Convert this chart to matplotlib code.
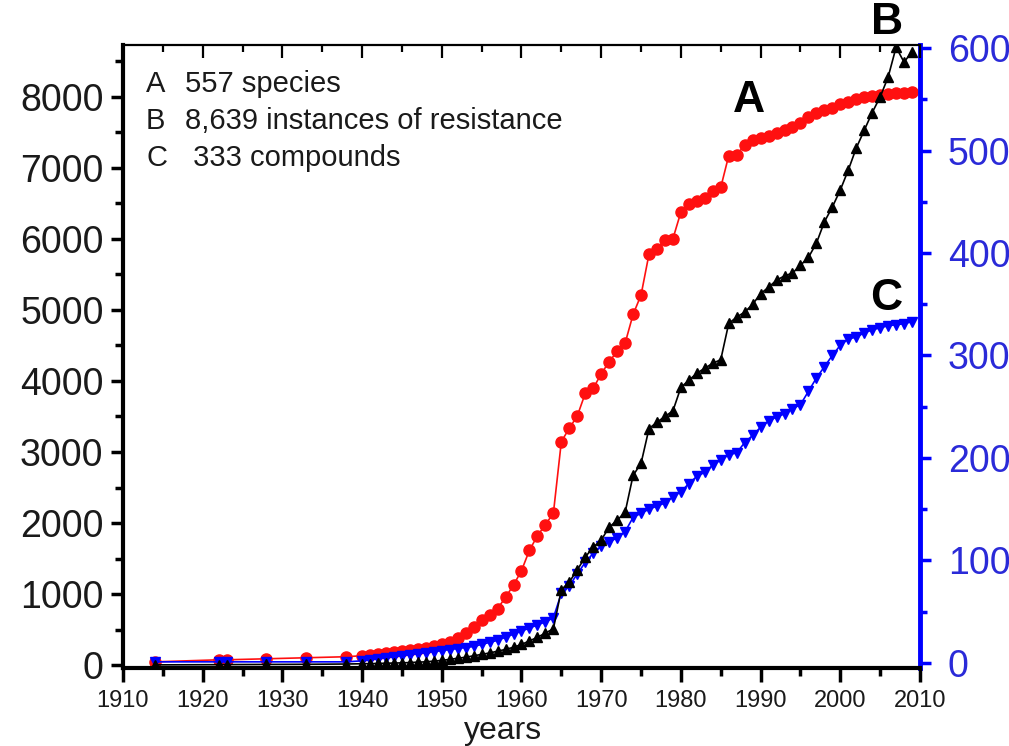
import matplotlib
matplotlib.use("Agg")
import matplotlib.pyplot as plt
from matplotlib.ticker import MultipleLocator

plt.rcParams['font.family'] = ['Liberation Sans', 'DejaVu Sans']

# ---------------- data ----------------
years = [1914, 1922, 1923, 1928, 1933, 1938] + list(range(1940, 2010))

# A: species (right axis)
species = [1, 3, 3, 4, 5, 6,
           7, 8, 9, 10, 11, 12, 13, 14, 15, 16,          # 1940-1949
           18, 20, 24, 29, 35, 42, 47, 53, 64, 76,       # 1950-1959
           90, 110, 124, 135, 146, 216, 229, 241, 263, 268,   # 1960-1969
           282, 294, 304, 312, 340, 359, 399, 404, 413, 414,  # 1970-1979
           440, 448, 451, 454, 461, 464, 495, 496, 505, 510,  # 1980-1989
           512, 514, 517, 520, 523, 527, 533, 537, 540, 542,  # 1990-1999
           545, 547, 550, 552, 553, 554, 555, 556, 556, 557]  # 2000-2009

# B: instances of resistance (left axis)
instances = [2, 5, 6, 8, 10, 14,
             18, 20, 22, 25, 28, 30, 35, 40, 45, 55,            # 1940-1949
             65, 80, 95, 110, 130, 150, 170, 195, 220, 250,     # 1950-1959
             290, 340, 390, 450, 510, 1060, 1170, 1340, 1520, 1660,  # 1960-1969
             1760, 1940, 2040, 2150, 2670, 2840, 3330, 3420, 3500, 3580,  # 1970-1979
             3910, 4010, 4110, 4180, 4250, 4300, 4810, 4900, 4970, 5080,  # 1980-1989
             5230, 5320, 5420, 5480, 5520, 5630, 5740, 5940, 6240, 6450,  # 1990-1999
             6690, 6970, 7280, 7530, 7780, 8000, 8280, 8700, 8490, 8639]  # 2000-2009

# C: compounds (right axis)
compounds = [1, 1, 1, 1, 1, 1,
             2, 3, 4, 5, 6, 7, 8, 9, 10, 11,               # 1940-1949
             12, 13, 14, 15, 16, 18, 20, 22, 25, 28,       # 1950-1959
             31, 34, 37, 40, 44, 68, 75, 87, 98, 107,      # 1960-1969
             114, 118, 122, 128, 142, 146, 150, 153, 156, 162,  # 1970-1979
             167, 175, 182, 186, 193, 198, 203, 205, 215, 222,  # 1980-1989
             230, 236, 240, 243, 248, 252, 265, 278, 289, 300,  # 1990-1999
             310, 316, 318, 322, 325, 327, 329, 330, 331, 333]  # 2000-2009

left_ticks = [0, 1000, 2000, 3000, 4000, 5000, 6000, 7000, 8000]
right_ticks = [0, 100, 200, 300, 400, 500, 600]
x_ticks = [1910, 1920, 1930, 1940, 1950, 1960, 1970, 1980, 1990, 2000, 2010]

legend_letters = ["A", "B", "C"]
legend_texts = ["557 species", "8,639 instances of resistance", " 333 compounds"]

# ---------------- figure ----------------
W, H = 1009, 746
fig = plt.figure(figsize=(W / 100, H / 100), dpi=100)
ax = fig.add_axes([123 / W, 1 - 668 / H, (920 - 123) / W, (668 - 45) / H])
ax2 = ax.twinx()

BLUE = '#0000ff'
TXT = '#1a1a1a'

# right-axis series
ax2.plot(years, species, '-', color='#ff1010', lw=1.2, marker='o', ms=8,
         mfc='#ff1010', mec='#ff1010', zorder=2)
ax2.plot(years, compounds, '-', color=BLUE, lw=1.2, marker='v', ms=7.5,
         mfc=BLUE, mec=BLUE, zorder=3)
# left-axis series
ax.plot(years, instances, '-', color='black', lw=1.2, marker='^', ms=7,
        mfc='black', mec='black', zorder=3)

ax.set_zorder(ax2.get_zorder() + 1)
ax.patch.set_visible(False)

ax.set_xlim(1910, 2010)
ax.set_ylim(-42, 8732)
ax2.set_ylim(-5, 603)

ax.set_xticks(x_ticks)
ax.xaxis.set_minor_locator(MultipleLocator(5))
ax.set_yticks(left_ticks)
ax.yaxis.set_minor_locator(MultipleLocator(500))
ax2.set_yticks(right_ticks)
ax2.yaxis.set_minor_locator(MultipleLocator(50))

# spines
for s in ['left', 'bottom']:
    ax.spines[s].set_linewidth(3)
    ax.spines[s].set_color('black')
ax.spines['top'].set_linewidth(1.6)
ax.spines['right'].set_visible(False)
for s in ['left', 'bottom', 'top']:
    ax2.spines[s].set_visible(False)
ax2.spines['right'].set_color(BLUE)
ax2.spines['right'].set_linewidth(3.5)

# ticks
ax.tick_params(axis='y', which='major', direction='out', length=9, width=2.5,
               labelsize=27, labelcolor=TXT, pad=5, right=False)
ax.tick_params(axis='y', which='minor', direction='out', length=6, width=2.5, right=False)
ax.tick_params(axis='x', which='major', direction='out', length=10, width=2.5,
               labelsize=17, labelcolor=TXT, pad=6, top=True)
ax.tick_params(axis='x', which='minor', direction='out', length=6, width=2.5, top=True)
# top ticks inward
for t in ax.xaxis.get_major_ticks():
    t.tick2line.set_marker(3)  # TICKDOWN
    t.tick2line.set_markersize(9)
    t.tick2line.set_markeredgewidth(1.6)
for t in ax.xaxis.get_minor_ticks():
    t.tick2line.set_marker(3)
    t.tick2line.set_markersize(5)
    t.tick2line.set_markeredgewidth(1.6)

ax2.tick_params(axis='y', which='major', direction='out', length=8, width=2.5,
                colors=BLUE, labelsize=27, labelcolor='#2a2ad8', pad=12)
ax2.tick_params(axis='y', which='minor', direction='out', length=5, width=2.5,
                colors=BLUE)

# x label
fig.text(503 / W, 1 - 731 / H, "years", ha='center', va='center',
         fontsize=23, color=TXT)

# legend-like text
rows_y = [84, 121, 158]
for letter, txt, y in zip(legend_letters, legend_texts, rows_y):
    fig.text(146 / W, 1 - y / H, letter, ha='left', va='center',
             fontsize=21, color=TXT)
    fig.text(185 / W, 1 - y / H, txt, ha='left', va='center',
             fontsize=21, color=TXT)

# series labels
fig.text(749 / W, 1 - 101 / H, "A", ha='center', va='center',
         fontsize=32, fontweight='bold', color='black')
fig.text(887 / W, 1 - 22 / H, "B", ha='center', va='center',
         fontsize=32, fontweight='bold', color='black')
fig.text(886 / W, 1 - 298 / H, "C", ha='center', va='center',
         fontsize=32, fontweight='bold', color='black')

fig.savefig("out.png", dpi=100)
